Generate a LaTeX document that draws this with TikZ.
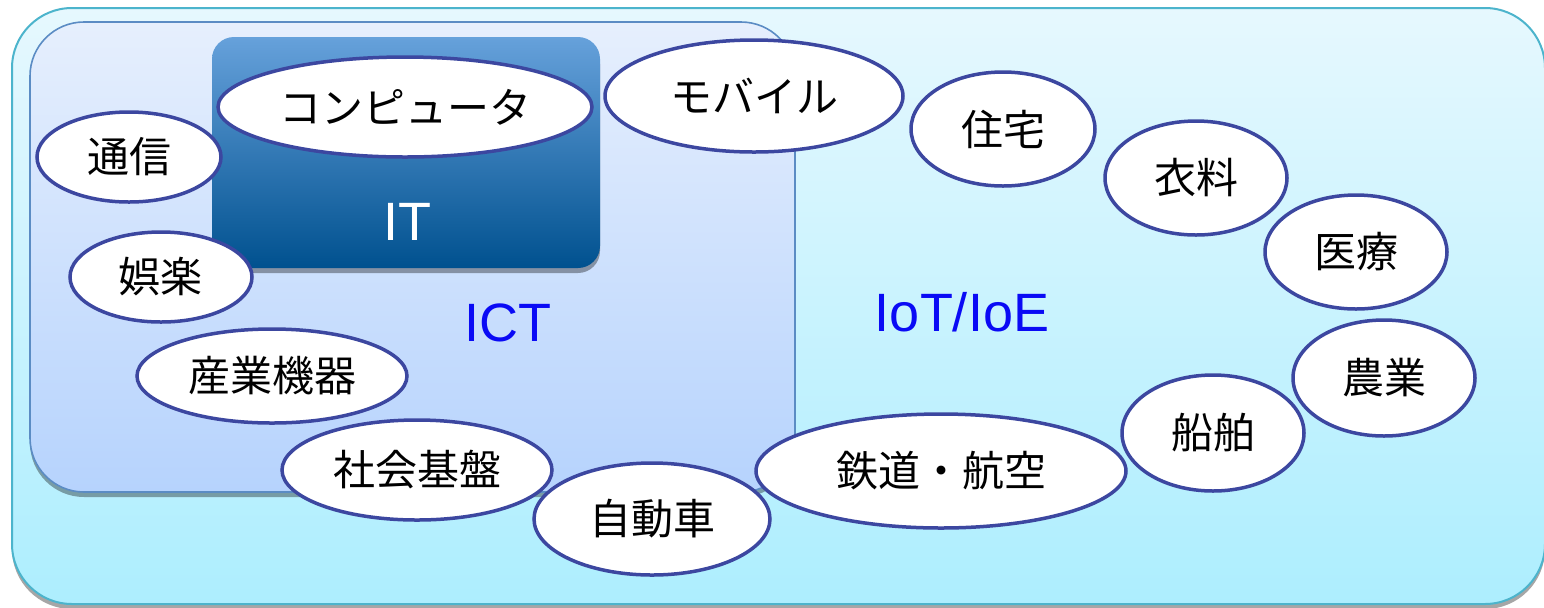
\documentclass[tikz,border=0pt]{standalone}
\usepackage{fontspec}
\setmainfont{Liberation Sans}
\newfontfamily\jp{Noto Sans CJK JP}
\usetikzlibrary{shapes.geometric,shadows}
\definecolor{outerTop}{HTML}{E6F8FE}
\definecolor{outerBot}{HTML}{ADEEFE}
\definecolor{outerLine}{HTML}{4CB4CC}
\definecolor{ictTop}{HTML}{E6EFFD}
\definecolor{ictBot}{HTML}{B6D3FD}
\definecolor{ictLine}{HTML}{5B8CC4}
\definecolor{itTop}{HTML}{66A1DB}
\definecolor{itBot}{HTML}{00518F}
\definecolor{bubline}{HTML}{3C47A0}
\definecolor{labelblue}{HTML}{0A0AF5}
\begin{document}
\begin{tikzpicture}[x=0.5pt,y=-0.5pt,
  bub/.style={ellipse, draw=bubline, line width=1.75pt, fill=white, inner sep=0pt,
    font=\jp\fontsize{21}{21}\selectfont},
  lbl/.style={font=\fontsize{27}{27}\selectfont, text=labelblue, inner sep=0pt},
  boxshadow/.style={drop shadow={shadow xshift=0pt, shadow yshift=-2.5pt, opacity=0.35, fill=black}}]
\useasboundingbox (0,0) rectangle (1544,607);
% outer IoT area
\path[rounded corners=30pt, top color=outerTop, bottom color=outerBot, draw=outerLine, line width=1pt, boxshadow]
  (12,8) rectangle (1545,604);
% ICT area
\path[rounded corners=27pt, top color=ictTop, bottom color=ictBot, draw=ictLine, line width=0.8pt, boxshadow]
  (30,22) rectangle (795,492);
% IT area
\path[rounded corners=11pt, top color=itTop, bottom color=itBot, boxshadow]
  (212,37) rectangle (600,268);
\node[font=\fontsize{27}{27}\selectfont, text=white, inner sep=0pt] (it) at (407,222) {IT};
\node[lbl] (ict) at (508,323) {ICT};
\node[lbl] (iot) at (962,312) {IoT/IoE};
% bubbles
\node[bub, minimum width=187pt, minimum height=50pt] (comp) at (405,107) {コンピュータ};
\node[bub, minimum width=149pt, minimum height=56pt] (mob) at (754,96) {モバイル};
\node[bub, minimum width=92pt, minimum height=45pt] (tsu) at (129,157) {通信};
\node[bub, minimum width=91pt, minimum height=45pt] (gor) at (161,277) {娯楽};
\node[bub, minimum width=135pt, minimum height=47pt] (san) at (272,376) {産業機器};
\node[bub, minimum width=185pt, minimum height=57pt] (tet) at (941,471) {鉄道・航空};
\node[bub, minimum width=118pt, minimum height=56pt] (jid) at (652,519) {自動車};
\node[bub, minimum width=135pt, minimum height=50pt] (sha) at (417,470) {社会基盤};
\node[bub, minimum width=92pt, minimum height=57pt] (juu) at (1003,129) {住宅};
\node[bub, minimum width=91pt, minimum height=57pt] (iry) at (1196,178) {衣料};
\node[bub, minimum width=91pt, minimum height=57pt] (iro) at (1356,252) {医療};
\node[bub, minimum width=91pt, minimum height=58pt] (nou) at (1384,378) {農業};
\node[bub, minimum width=91pt, minimum height=58pt] (sen) at (1213,433) {船舶};
\end{tikzpicture}
\end{document}
